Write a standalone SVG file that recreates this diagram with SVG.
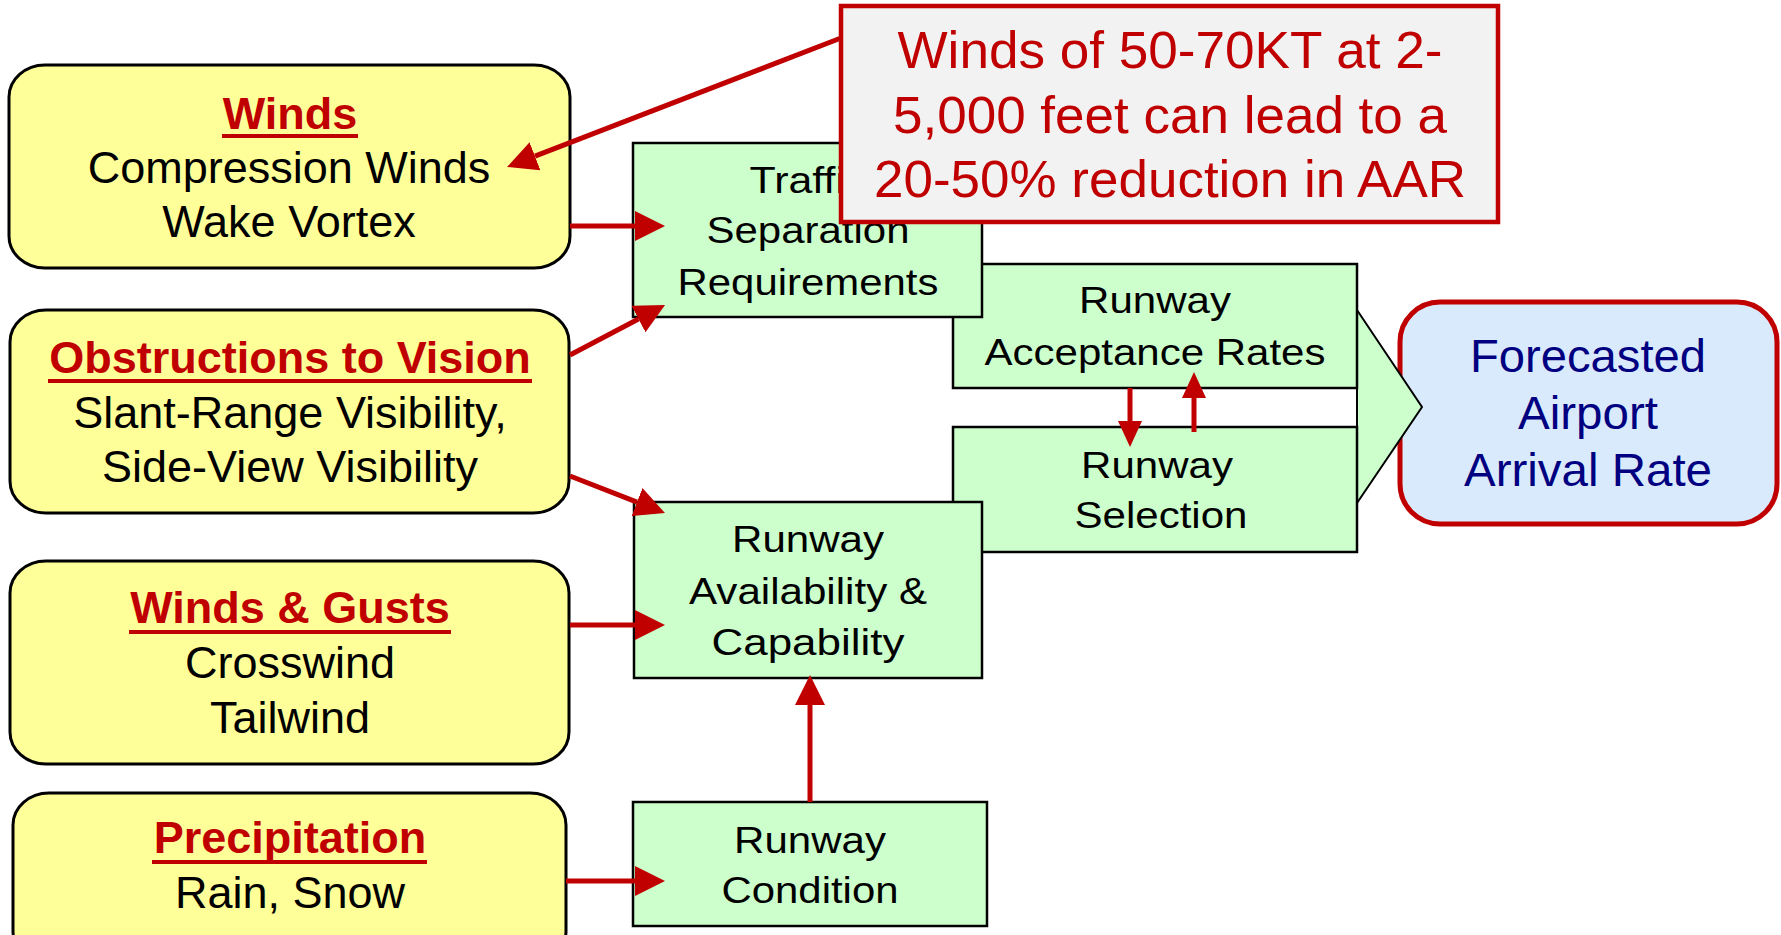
<svg xmlns="http://www.w3.org/2000/svg" width="1781" height="935" viewBox="0 0 1781 935">
<style>
.yb{fill:#FFFF99;stroke:#000;stroke-width:3}
.gb{fill:#CCFFCC;stroke:#000;stroke-width:2.5}
.t{font-family:"Liberation Sans",Arial,sans-serif;text-anchor:middle}
.yt{font-size:45px;fill:#000}
.tt{font-size:45px;font-weight:bold;fill:#C00000}
.gt{font-size:37px;fill:#000}
.ft{font-size:47px;fill:#000080}
.ct{font-size:52px;fill:#C00000}
.ul{stroke:#C00000;stroke-width:4}
.cn{stroke:#C00000;stroke-width:5;fill:none}
</style>
<defs>
<marker id="ah" markerUnits="userSpaceOnUse" markerWidth="30" markerHeight="30" refX="0" refY="15" orient="auto">
<path d="M0,0 L30,15 L0,30 z" fill="#C00000"/>
</marker>
<marker id="ahs" markerUnits="userSpaceOnUse" markerWidth="26" markerHeight="24" refX="0" refY="12" orient="auto">
<path d="M0,0 L26,12 L0,24 z" fill="#C00000"/>
</marker>
</defs>
<rect width="1781" height="935" fill="#fff"/>

<g id="faar">
<rect x="1400" y="302" width="377" height="222" rx="40" ry="40" fill="#DAEAFD" stroke="#C00000" stroke-width="5"/>
<text class="t ft" x="1588" y="372" textLength="236" lengthAdjust="spacingAndGlyphs">Forecasted</text>
<text class="t ft" x="1588" y="429" textLength="140" lengthAdjust="spacingAndGlyphs">Airport</text>
<text class="t ft" x="1588" y="486" textLength="248" lengthAdjust="spacingAndGlyphs">Arrival Rate</text>
</g>

<g id="chevron">
<polygon points="1357,310 1422,407 1357,503" fill="#CCFFCC" stroke="#000" stroke-width="2"/>
</g>

<g id="rar">
<rect class="gb" x="953" y="264" width="404" height="124"/>
<text class="t gt" x="1155" y="313" textLength="152" lengthAdjust="spacingAndGlyphs">Runway</text>
<text class="t gt" x="1155" y="365" textLength="341" lengthAdjust="spacingAndGlyphs">Acceptance Rates</text>
</g>

<g id="rs">
<rect class="gb" x="953" y="427" width="404" height="125"/>
<text class="t gt" x="1157" y="478" textLength="152" lengthAdjust="spacingAndGlyphs">Runway</text>
<text class="t gt" x="1161" y="528" textLength="173" lengthAdjust="spacingAndGlyphs">Selection</text>
</g>

<g id="tsr">
<rect class="gb" x="633" y="143" width="349" height="174"/>
<text class="t gt" x="808" y="193" textLength="117" lengthAdjust="spacingAndGlyphs">Traffic</text>
<text class="t gt" x="808" y="243" textLength="203" lengthAdjust="spacingAndGlyphs">Separation</text>
<text class="t gt" x="808" y="295" textLength="261" lengthAdjust="spacingAndGlyphs">Requirements</text>
</g>

<g id="rac">
<rect class="gb" x="634" y="502" width="348" height="176"/>
<text class="t gt" x="808" y="552" textLength="152" lengthAdjust="spacingAndGlyphs">Runway</text>
<text class="t gt" x="808" y="604" textLength="238" lengthAdjust="spacingAndGlyphs">Availability &amp;</text>
<text class="t gt" x="808" y="655" textLength="193" lengthAdjust="spacingAndGlyphs">Capability</text>
</g>

<g id="rc">
<rect class="gb" x="633" y="802" width="354" height="124"/>
<text class="t gt" x="810" y="853" textLength="152" lengthAdjust="spacingAndGlyphs">Runway</text>
<text class="t gt" x="810" y="903" textLength="177" lengthAdjust="spacingAndGlyphs">Condition</text>
</g>

<g id="winds">
<rect class="yb" x="9" y="65" width="561" height="203" rx="36" ry="32"/>
<text class="t tt" x="290" y="129">Winds</text>
<line class="ul" x1="222" y1="136" x2="358" y2="136"/>
<text class="t yt" x="289" y="183">Compression Winds</text>
<text class="t yt" x="289" y="237">Wake Vortex</text>
</g>

<g id="obstructions">
<rect class="yb" x="10" y="310" width="559" height="203" rx="36" ry="32"/>
<text class="t tt" x="290" y="373">Obstructions to Vision</text>
<line class="ul" x1="48" y1="381" x2="532" y2="381"/>
<text class="t yt" x="290" y="428">Slant-Range Visibility,</text>
<text class="t yt" x="290" y="482">Side-View Visibility</text>
</g>

<g id="gusts">
<rect class="yb" x="10" y="561" width="559" height="203" rx="36" ry="32"/>
<text class="t tt" x="290" y="623">Winds &amp; Gusts</text>
<line class="ul" x1="129" y1="632" x2="451" y2="632"/>
<text class="t yt" x="290" y="678">Crosswind</text>
<text class="t yt" x="290" y="733">Tailwind</text>
</g>

<g id="precip">
<rect class="yb" x="13" y="793" width="553" height="170" rx="36" ry="32"/>
<text class="t tt" x="290" y="853">Precipitation</text>
<line class="ul" x1="152" y1="862" x2="427" y2="862"/>
<text class="t yt" x="290" y="908">Rain, Snow</text>
</g>

<g id="connectors">
<line class="cn" x1="570" y1="226" x2="635" y2="226" marker-end="url(#ah)"/>
<line class="cn" x1="570" y1="355" x2="638.5" y2="319" marker-end="url(#ah)"/>
<line class="cn" x1="570" y1="476" x2="637" y2="502.1" marker-end="url(#ah)"/>
<line class="cn" x1="570" y1="625" x2="635" y2="625" marker-end="url(#ah)"/>
<line class="cn" x1="566" y1="881" x2="635" y2="881" marker-end="url(#ah)"/>
<line class="cn" x1="810" y1="802" x2="810" y2="705" marker-end="url(#ah)"/>
<line class="cn" x1="841" y1="38" x2="535" y2="156.2" marker-end="url(#ah)"/>
<line class="cn" x1="1130" y1="388" x2="1130" y2="421" stroke-width="4" marker-end="url(#ahs)"/>
<line class="cn" x1="1194" y1="432" x2="1194" y2="398" stroke-width="4" marker-end="url(#ahs)"/>
</g>

<g id="callout">
<rect x="841" y="6" width="657" height="216" fill="#F2F2F2" stroke="#C00000" stroke-width="4.5"/>
<text class="t ct" x="1170" y="68" textLength="545" lengthAdjust="spacingAndGlyphs">Winds of 50-70KT at 2-</text>
<text class="t ct" x="1170" y="133" textLength="554" lengthAdjust="spacingAndGlyphs">5,000 feet can lead to a</text>
<text class="t ct" x="1170" y="197" textLength="592" lengthAdjust="spacingAndGlyphs">20-50% reduction in AAR</text>
</g>
</svg>
